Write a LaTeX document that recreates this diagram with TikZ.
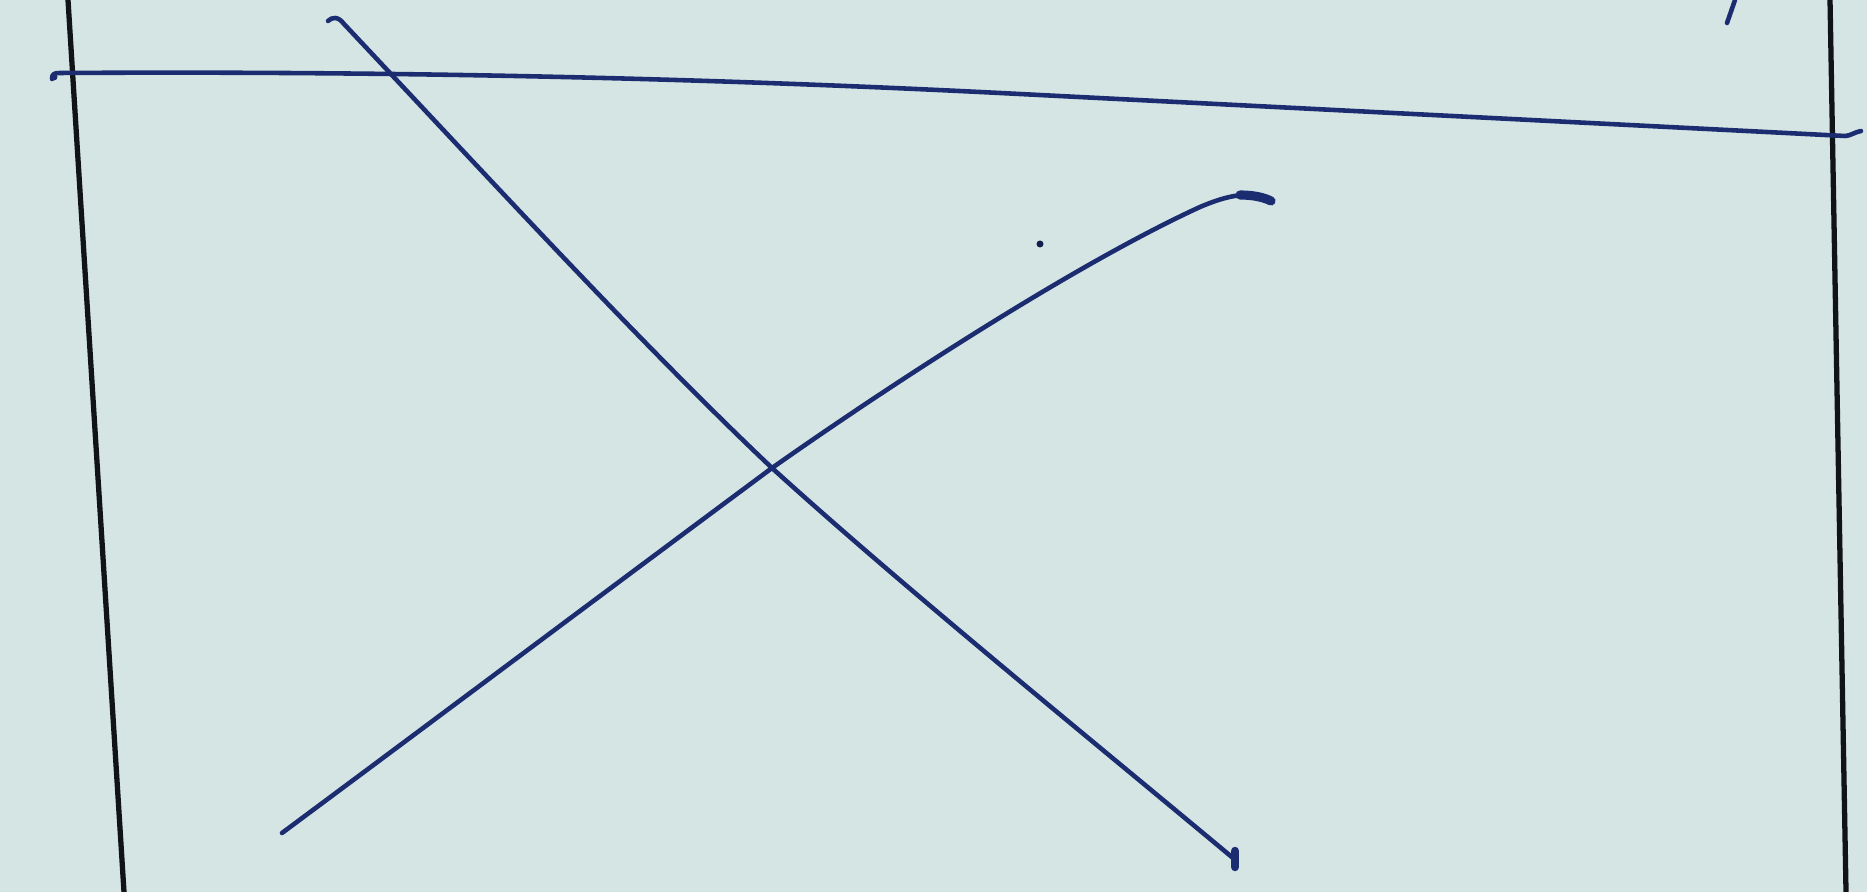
\documentclass[tikz,border=0pt]{standalone}
\definecolor{paper}{HTML}{D5E5E3}
\definecolor{ink}{HTML}{1B2C70}
\definecolor{rule}{HTML}{101418}
\tikzset{
  bluepen/.style={draw=ink, line width=1.3pt, line cap=round, line join=round},
  rulepen/.style={draw=rule, line width=1.5pt}
}
\begin{document}
\begin{tikzpicture}[x=0.01cm,y=-0.01cm]
\fill[paper] (0,0) rectangle (1867,892);
\useasboundingbox (0,0) rectangle (1867,892);
% margin rules
\draw[rulepen] (68,0) -- (124,892);
\draw[rulepen] (1830,0) -- (1846,892);
% near-horizontal blue line
\draw[bluepen] (52,79) .. controls (52,74) and (54,73) .. (60,73)
  .. controls (400,71) and (700,78) .. (1000,93) -- (1845,136)
  .. controls (1850,136) and (1855,132) .. (1861,131);
\fill[ink] (54,77) circle (3.5);
% descending stroke
\draw[bluepen] (328,21) .. controls (332,17) and (338,16) .. (344,24)
  .. controls (486,175) and (642,345) .. (772,468)
  .. controls (902,586) and (1083,733) .. (1233,858);
\draw[bluepen, line width=2.4pt] (1235,851) -- (1235,867);
% ascending stroke
\draw[bluepen] (282,833) .. controls (445,712) and (609,589) .. (772,468)
  .. controls (900,378) and (1080,262) .. (1200,207)
  .. controls (1235,192) and (1255,192) .. (1272,201);
\draw[bluepen, line width=2.6pt] (1240,195) .. controls (1255,195) and (1265,198) .. (1271,201);
% small marks
\draw[bluepen] (1727,23) -- (1735,0);
\fill[ink!70!black] (1040,244) circle (3.5);
\end{tikzpicture}
\end{document}
